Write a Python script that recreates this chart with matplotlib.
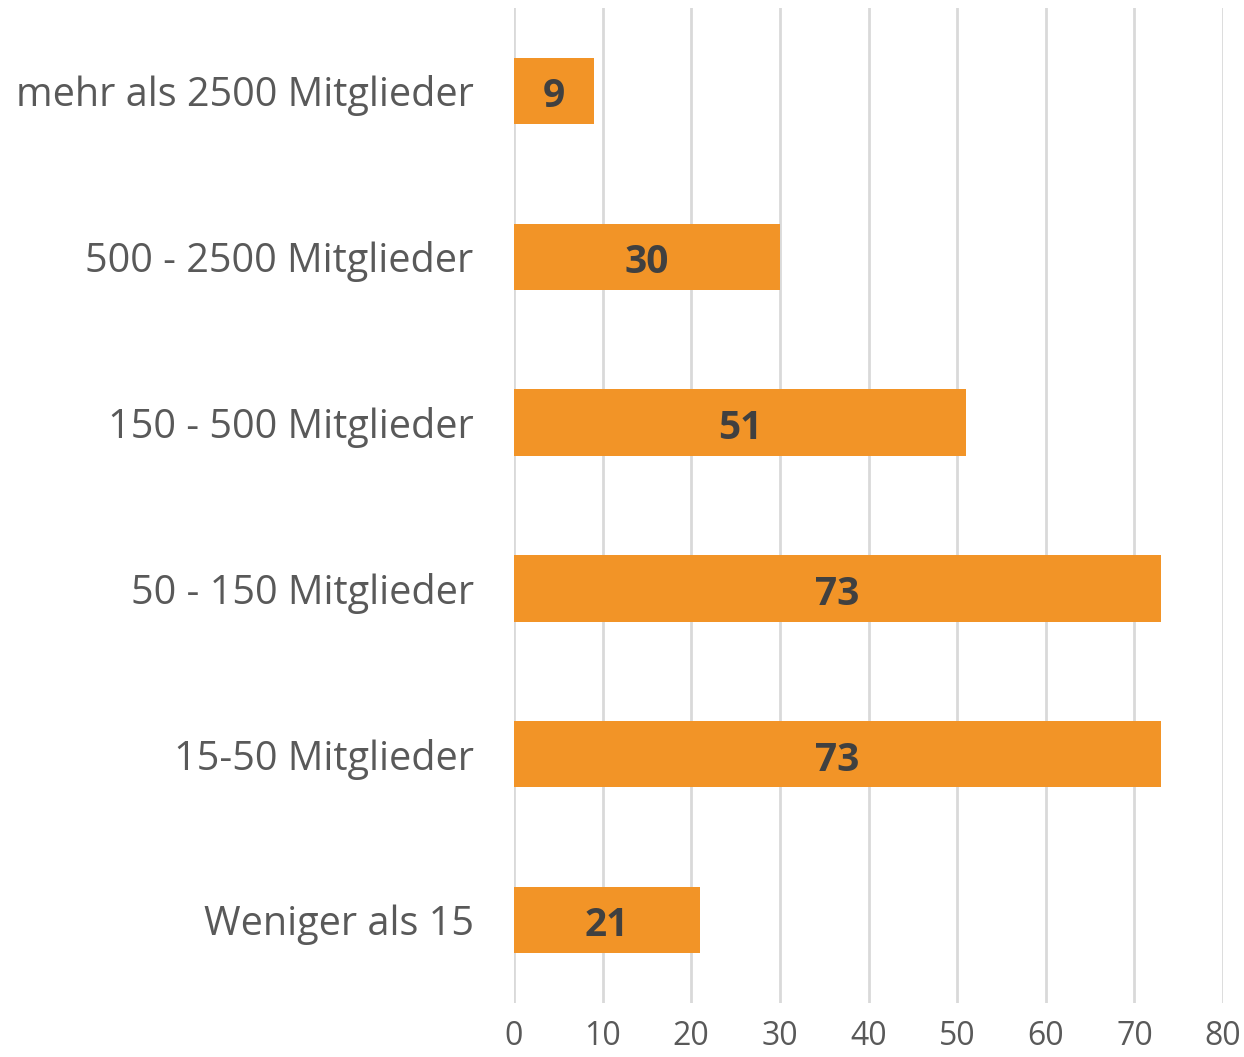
import matplotlib.pyplot as plt

categories = ["mehr als 2500 Mitglieder", "500 - 2500 Mitglieder", "150 - 500 Mitglieder",
              "50 - 150 Mitglieder", "15-50 Mitglieder", "Weniger als 15"]
values = [9, 30, 51, 73, 73, 21]
xticks = [0, 10, 20, 30, 40, 50, 60, 70, 80]

plt.rcParams['font.family'] = ['Open Sans', 'DejaVu Sans']

fig = plt.figure(figsize=(12.44, 10.57), dpi=100)
ax = fig.add_axes([514 / 1244, 1 - 1003 / 1057, (1223 - 514) / 1244, 995 / 1057])

pos = list(range(len(categories)))
bars = ax.barh(pos, values, height=0.4, color='#F29427', zorder=3)

# value labels, nudged a little down to sit in the middle of the bar
for b, v in zip(bars, values):
    ax.text(b.get_width() / 2, b.get_y() + b.get_height() / 2 + 0.035, str(v),
            ha='center', va='center', fontsize=28, fontweight='bold', color='#404040', zorder=4)

ax.set_ylim(len(categories) - 0.5, -0.5)
ax.set_xlim(0, 80)
ax.set_yticks(pos)
ax.set_yticklabels(categories, fontsize=28.5, color='#595959')
ax.set_xticks(xticks)
ax.set_xticklabels([str(t) for t in xticks], fontsize=23, color='#595959')
ax.tick_params(length=0)
ax.tick_params(axis='y', pad=29)
ax.tick_params(axis='x', pad=12)

ax.grid(axis='x', color='#D9D9D9', linewidth=2, zorder=0)
for s in ax.spines.values():
    s.set_visible(False)

fig.savefig('out.png', dpi=100)
